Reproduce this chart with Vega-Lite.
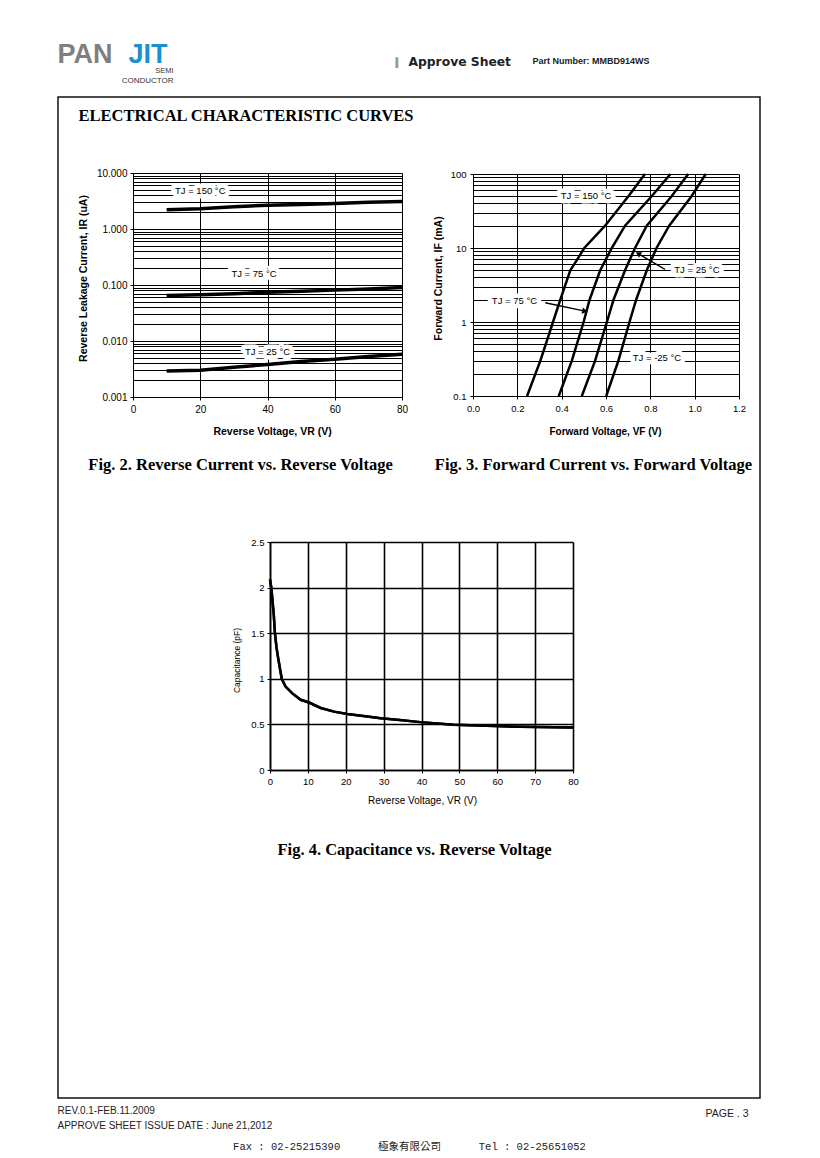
{
  "$schema": "https://vega.github.io/schema/vega-lite/v6.json",
  "width": 702,
  "height": 1001,
  "autosize": {"type": "none"},
  "padding": {"left": 58, "top": 97, "right": 60, "bottom": 60},
  "background": "white",
  "config": {
    "view": {"stroke": "#111111", "strokeWidth": 1.5, "fill": "white"},
    "axis": {
      "labelFont": "Liberation Sans", "titleFont": "Liberation Sans",
      "labelColor": "black", "titleColor": "black", "domainColor": "black",
      "tickColor": "black", "gridColor": "black", "gridOpacity": 1, "gridWidth": 1,
      "labelFlush": false, "labelOverlap": false, "titleLimit": 2000, "titlePadding": 0
    }
  },
  "datasets": {
    "fig2": [
      {"s": "150", "v": 10, "i": 2.2}, {"s": "150", "v": 20, "i": 2.3}, {"s": "150", "v": 30, "i": 2.5}, {"s": "150", "v": 40, "i": 2.65},
      {"s": "150", "v": 50, "i": 2.75}, {"s": "150", "v": 60, "i": 2.85}, {"s": "150", "v": 70, "i": 3.0}, {"s": "150", "v": 80, "i": 3.1},
      {"s": "75", "v": 10, "i": 0.065}, {"s": "75", "v": 20, "i": 0.067}, {"s": "75", "v": 30, "i": 0.07}, {"s": "75", "v": 40, "i": 0.074},
      {"s": "75", "v": 50, "i": 0.077}, {"s": "75", "v": 60, "i": 0.081}, {"s": "75", "v": 70, "i": 0.085}, {"s": "75", "v": 80, "i": 0.09},
      {"s": "25", "v": 10, "i": 0.0029}, {"s": "25", "v": 20, "i": 0.003}, {"s": "25", "v": 30, "i": 0.0034}, {"s": "25", "v": 40, "i": 0.0038},
      {"s": "25", "v": 50, "i": 0.0043}, {"s": "25", "v": 60, "i": 0.0047}, {"s": "25", "v": 70, "i": 0.0053}, {"s": "25", "v": 80, "i": 0.0058}
    ],
    "fig2lab": [
      {"label": "TJ = 150 °C", "v": 20, "i": 4.7},
      {"label": "TJ = 75 °C", "v": 36, "i": 0.16},
      {"label": "TJ = 25 °C", "v": 40, "i": 0.0063}
    ],
    "fig3": [
      {"s": "150", "vf": 0.244, "f": 0.1}, {"s": "150", "vf": 0.304, "f": 0.3}, {"s": "150", "vf": 0.361, "f": 1}, {"s": "150", "vf": 0.394, "f": 2},
      {"s": "150", "vf": 0.439, "f": 5}, {"s": "150", "vf": 0.469, "f": 6.9}, {"s": "150", "vf": 0.502, "f": 10}, {"s": "150", "vf": 0.596, "f": 20},
      {"s": "150", "vf": 0.701, "f": 50}, {"s": "150", "vf": 0.776, "f": 100},
      {"s": "75", "vf": 0.387, "f": 0.1}, {"s": "75", "vf": 0.446, "f": 0.3}, {"s": "75", "vf": 0.499, "f": 1}, {"s": "75", "vf": 0.526, "f": 2},
      {"s": "75", "vf": 0.574, "f": 5}, {"s": "75", "vf": 0.626, "f": 10}, {"s": "75", "vf": 0.686, "f": 20}, {"s": "75", "vf": 0.806, "f": 50},
      {"s": "75", "vf": 0.891, "f": 100},
      {"s": "25", "vf": 0.491, "f": 0.1}, {"s": "25", "vf": 0.551, "f": 0.3}, {"s": "25", "vf": 0.604, "f": 1}, {"s": "25", "vf": 0.634, "f": 2},
      {"s": "25", "vf": 0.686, "f": 5}, {"s": "25", "vf": 0.731, "f": 10}, {"s": "25", "vf": 0.784, "f": 20}, {"s": "25", "vf": 0.896, "f": 50},
      {"s": "25", "vf": 0.971, "f": 100},
      {"s": "-25", "vf": 0.601, "f": 0.1}, {"s": "-25", "vf": 0.656, "f": 0.3}, {"s": "-25", "vf": 0.706, "f": 1}, {"s": "-25", "vf": 0.736, "f": 2},
      {"s": "-25", "vf": 0.784, "f": 5}, {"s": "-25", "vf": 0.828, "f": 10}, {"s": "-25", "vf": 0.885, "f": 20}, {"s": "-25", "vf": 0.986, "f": 50},
      {"s": "-25", "vf": 1.05, "f": 100}
    ],
    "fig3lab": [
      {"label": "TJ = 150 °C", "vf": 0.51, "f": 50},
      {"label": "TJ = 25 °C", "vf": 1.01, "f": 5.0},
      {"label": "TJ = 75 °C", "vf": 0.187, "f": 1.92},
      {"label": "TJ = -25 °C", "vf": 0.83, "f": 0.327}
    ],
    "fig3arrows": [
      {"s": "25", "x0": 0.866, "y0": 5.15, "x1": 0.745, "y1": 8.4},
      {"s": "75", "x0": 0.326, "y0": 1.82, "x1": 0.505, "y1": 1.4}
    ],
    "fig4": [
      {"vr": 0, "c": 2.09}, {"vr": 0.35, "c": 2.0}, {"vr": 1.0, "c": 1.7}, {"vr": 1.3, "c": 1.5}, {"vr": 1.7, "c": 1.35},
      {"vr": 2.1, "c": 1.24}, {"vr": 3.1, "c": 1.0}, {"vr": 4.1, "c": 0.915}, {"vr": 5.9, "c": 0.84}, {"vr": 8.1, "c": 0.77},
      {"vr": 10.3, "c": 0.74}, {"vr": 13.4, "c": 0.68}, {"vr": 16.9, "c": 0.64}, {"vr": 20.4, "c": 0.615}, {"vr": 25.7, "c": 0.586},
      {"vr": 29.2, "c": 0.568}, {"vr": 33.6, "c": 0.55}, {"vr": 39.7, "c": 0.525}, {"vr": 48.5, "c": 0.495}, {"vr": 57.3, "c": 0.485},
      {"vr": 66.1, "c": 0.473}, {"vr": 80, "c": 0.465}
    ]
  },
  "resolve": {
    "scale": {"x": "independent", "y": "independent"},
    "axis": {"x": "independent", "y": "independent"}
  },
  "layer": [
    {
      "data": {"name": "fig2"},
      "mark": {"type": "line", "color": "black", "strokeWidth": 3.5},
      "encoding": {
        "x": {"field": "v", "type": "quantitative",
          "scale": {"domain": [0, 80], "range": [75, 344], "nice": false, "zero": false},
          "axis": {"orient": "top", "values": [0, 20, 40, 60, 80], "grid": true, "labels": false, "ticks": false, "domain": false,
            "title": "Fig. 2. Reverse Current vs. Reverse Voltage", "titleX": 182, "titleY": 367, "titleAngle": 0,
            "titleAlign": "center", "titleBaseline": "middle", "titleFont": "Liberation Serif", "titleFontSize": 16.5, "titleFontWeight": "bold"}},
        "y": {"field": "i", "type": "quantitative",
          "scale": {"type": "log", "domain": [0.001, 10], "range": [300, 76], "nice": false},
          "axis": {"orient": "left", "offset": -75,
            "values": [0.001,0.002,0.003,0.004,0.005,0.006,0.007,0.008,0.009,0.01,0.02,0.03,0.04,0.05,0.06,0.07,0.08,0.09,0.1,0.2,0.3,0.4,0.5,0.6,0.7,0.8,0.9,1,2,3,4,5,6,7,8,9,10],
            "grid": true,
            "labelExpr": "indexof([0.001,0.01,0.1,1,10], datum.value) >= 0 ? format(datum.value, '.3f') : ''",
            "tickOpacity": {"condition": {"test": "indexof([0.001,0.01,0.1,1,10], datum.value) >= 0", "value": 1}, "value": 0},
            "tickSize": 3, "labelPadding": 3, "labelFontSize": 10,
            "title": "Reverse Leakage Current, IR (uA)", "titleX": -50, "titleY": 181, "titleAngle": -90,
            "titleAlign": "center", "titleBaseline": "middle", "titleFontSize": 10.5, "titleFontWeight": "bold"}},
        "detail": {"field": "s"}
      }
    },
    {
      "data": {"name": "fig2lab"},
      "mark": {"type": "text", "font": "Liberation Sans", "fontSize": 9.5, "fill": "white", "stroke": "white", "strokeWidth": 9, "strokeJoin": "round"},
      "encoding": {
        "x": {"field": "v", "type": "quantitative",
          "scale": {"domain": [0, 80], "range": [75, 344], "nice": false, "zero": false},
          "axis": {"orient": "top", "labels": false, "ticks": false, "domain": false, "grid": false,
            "title": "PAN", "titleX": -1, "titleY": -35, "titleAngle": 0, "titleAlign": "left", "titleBaseline": "alphabetic",
            "titleFont": "Liberation Sans", "titleFontSize": 27, "titleFontWeight": "bold", "titleColor": "#7f7f7f"}},
        "y": {"field": "i", "type": "quantitative",
          "scale": {"type": "log", "domain": [0.001, 10], "range": [300, 76], "nice": false},
          "axis": null},
        "text": {"field": "label"}
      }
    },
    {
      "data": {"name": "fig2lab"},
      "mark": {"type": "text", "font": "Liberation Sans", "fontSize": 9.5, "color": "black"},
      "encoding": {
        "x": {"field": "v", "type": "quantitative",
          "scale": {"domain": [0, 80], "range": [75, 344], "nice": false, "zero": false},
          "axis": {"orient": "bottom", "offset": -701, "values": [0, 20, 40, 60, 80], "grid": false,
            "tickSize": 3, "labelPadding": 4, "labelFontSize": 10,
            "title": "Reverse Voltage, VR (V)", "titleX": 214, "titleY": 34, "titleAngle": 0,
            "titleAlign": "center", "titleBaseline": "middle", "titleFontSize": 10.5, "titleFontWeight": "bold"}},
        "y": {"field": "i", "type": "quantitative",
          "scale": {"type": "log", "domain": [0.001, 10], "range": [300, 76], "nice": false},
          "axis": {"orient": "left", "labels": false, "ticks": false, "domain": false, "grid": false,
            "title": "JIT", "titleX": 89.5, "titleY": -35, "titleAngle": 0, "titleAlign": "center", "titleBaseline": "alphabetic",
            "titleFont": "Liberation Sans", "titleFontSize": 27, "titleFontWeight": "bold", "titleColor": "#1b8fd2"}},
        "text": {"field": "label"}
      }
    },
    {
      "data": {"name": "fig3"},
      "mark": {"type": "line", "color": "black", "strokeWidth": 2.5},
      "encoding": {
        "x": {"field": "vf", "type": "quantitative",
          "scale": {"domain": [0, 1.2], "range": [415, 681], "nice": false, "zero": false},
          "axis": {"orient": "top", "values": [0, 0.2, 0.4, 0.6, 0.8, 1.0, 1.2], "grid": true, "labels": false, "ticks": false, "domain": false,
            "title": "Fig. 3. Forward Current vs. Forward Voltage", "titleX": 535, "titleY": 367, "titleAngle": 0,
            "titleAlign": "center", "titleBaseline": "middle", "titleFont": "Liberation Serif", "titleFontSize": 16.5, "titleFontWeight": "bold"}},
        "y": {"field": "f", "type": "quantitative",
          "scale": {"type": "log", "domain": [0.1, 100], "range": [299, 77], "nice": false},
          "axis": {"orient": "left", "offset": -415,
            "values": [0.1,0.2,0.3,0.4,0.5,0.6,0.7,0.8,0.9,1,2,3,4,5,6,7,8,9,10,20,30,40,50,60,70,80,90,100],
            "grid": true,
            "labelExpr": "indexof([0.1,1,10,100], datum.value) >= 0 ? format(datum.value, '~g') : ''",
            "tickOpacity": {"condition": {"test": "indexof([0.1,1,10,100], datum.value) >= 0", "value": 1}, "value": 0},
            "tickSize": 3, "labelPadding": 4, "labelFontSize": 9.5,
            "title": "Forward Current, IF (mA)", "titleX": -35, "titleY": 181, "titleAngle": -90,
            "titleAlign": "center", "titleBaseline": "middle", "titleFontSize": 10.5, "titleFontWeight": "bold"}},
        "detail": {"field": "s"}
      }
    },
    {
      "data": {"name": "fig3lab"},
      "mark": {"type": "text", "font": "Liberation Sans", "fontSize": 9.5, "fill": "white", "stroke": "white", "strokeWidth": 9, "strokeJoin": "round"},
      "encoding": {
        "x": {"field": "vf", "type": "quantitative",
          "scale": {"domain": [0, 1.2], "range": [415, 681], "nice": false, "zero": false},
          "axis": {"orient": "top", "labels": false, "ticks": false, "domain": false, "grid": false,
            "title": "CONDUCTOR", "titleX": 115, "titleY": -14.3, "titleAngle": 0, "titleAlign": "right", "titleBaseline": "alphabetic",
            "titleFont": "Liberation Sans", "titleFontSize": 8, "titleFontWeight": "normal", "titleColor": "#333333"}},
        "y": {"field": "f", "type": "quantitative",
          "scale": {"type": "log", "domain": [0.1, 100], "range": [299, 77], "nice": false},
          "axis": {"orient": "left", "labels": false, "ticks": false, "domain": false, "grid": false,
            "title": "SEMI", "titleX": 115, "titleY": -24.2, "titleAngle": 0, "titleAlign": "right", "titleBaseline": "alphabetic",
            "titleFont": "Liberation Sans", "titleFontSize": 7.5, "titleFontWeight": "normal", "titleColor": "#333333"}},
        "text": {"field": "label"}
      }
    },
    {
      "data": {"name": "fig3lab"},
      "mark": {"type": "text", "font": "Liberation Sans", "fontSize": 9.5, "color": "black"},
      "encoding": {
        "x": {"field": "vf", "type": "quantitative",
          "scale": {"domain": [0, 1.2], "range": [415, 681], "nice": false, "zero": false},
          "axis": {"orient": "bottom", "offset": -702, "values": [0, 0.2, 0.4, 0.6, 0.8, 1.0, 1.2], "format": ".1f", "grid": false,
            "tickSize": 3, "labelPadding": 4, "labelFontSize": 9.5,
            "title": "Forward Voltage, VF (V)", "titleX": 547, "titleY": 35, "titleAngle": 0,
            "titleAlign": "center", "titleBaseline": "middle", "titleFontSize": 10, "titleFontWeight": "bold"}},
        "y": {"field": "f", "type": "quantitative",
          "scale": {"type": "log", "domain": [0.1, 100], "range": [299, 77], "nice": false},
          "axis": {"orient": "left", "labels": false, "ticks": false, "domain": false, "grid": false,
            "title": "Approve Sheet", "titleX": 350, "titleY": -32, "titleAngle": 0, "titleAlign": "left", "titleBaseline": "alphabetic",
            "titleFont": "DejaVu Sans", "titleFontSize": 12.3, "titleFontWeight": "bold", "titleColor": "#222222"}},
        "text": {"field": "label"}
      }
    },
    {
      "data": {"name": "fig3arrows"},
      "mark": {"type": "rule", "color": "black", "strokeWidth": 1.3},
      "encoding": {
        "x": {"field": "x0", "type": "quantitative",
          "scale": {"domain": [0, 1.2], "range": [415, 681], "nice": false, "zero": false},
          "axis": {"orient": "top", "labels": false, "ticks": false, "domain": false, "grid": false,
            "title": ["REV.0.1-FEB.11.2009", "APPROVE SHEET ISSUE DATE : June 21,2012"], "titleX": -1, "titleY": 1016, "titleAngle": 0,
            "titleAlign": "left", "titleBaseline": "alphabetic", "titleLineHeight": 15,
            "titleFont": "Liberation Sans", "titleFontSize": 10, "titleFontWeight": "normal", "titleColor": "#222222"}},
        "x2": {"field": "x1"},
        "y": {"field": "y0", "type": "quantitative",
          "scale": {"type": "log", "domain": [0.1, 100], "range": [299, 77], "nice": false},
          "axis": {"orient": "left", "labels": false, "ticks": false, "domain": false, "grid": false,
            "title": "PAGE . 3", "titleX": 690, "titleY": 1019, "titleAngle": 0, "titleAlign": "right", "titleBaseline": "alphabetic",
            "titleFont": "Liberation Sans", "titleFontSize": 10.5, "titleFontWeight": "normal", "titleColor": "#222222"}},
        "y2": {"field": "y1"}
      }
    },
    {
      "data": {"name": "fig3arrows"},
      "transform": [{"filter": {"field": "s", "equal": "25"}}],
      "mark": {"type": "point", "shape": "triangle-up", "filled": true, "color": "black", "size": 40, "opacity": 1, "angle": 300},
      "encoding": {
        "x": {"field": "x1", "type": "quantitative",
          "scale": {"domain": [0, 1.2], "range": [415, 681], "nice": false, "zero": false},
          "axis": {"orient": "top", "labels": false, "ticks": false, "domain": false, "grid": false,
            "title": "Fax : 02-25215390\u00a0\u00a0\u00a0\u00a0\u00a0\u00a0極象有限公司\u00a0\u00a0\u00a0\u00a0\u00a0\u00a0Tel : 02-25651052", "titleX": 351, "titleY": 1052, "titleAngle": 0,
            "titleAlign": "center", "titleBaseline": "alphabetic",
            "titleFont": "Liberation Mono, Noto Sans CJK TC", "titleFontSize": 10.5, "titleFontWeight": "normal", "titleColor": "#222222"}},
        "y": {"field": "y1", "type": "quantitative",
          "scale": {"type": "log", "domain": [0.1, 100], "range": [299, 77], "nice": false},
          "axis": {"orient": "left", "labels": false, "ticks": false, "domain": false, "grid": false,
            "title": "Part Number: MMBD914WS", "titleX": 474, "titleY": -33.4, "titleAngle": 0, "titleAlign": "left", "titleBaseline": "alphabetic",
            "titleFont": "Liberation Sans", "titleFontSize": 9, "titleFontWeight": "bold", "titleColor": "#222222"}}
      }
    },
    {
      "data": {"name": "fig3arrows"},
      "transform": [{"filter": {"field": "s", "equal": "75"}}],
      "mark": {"type": "point", "shape": "triangle-up", "filled": true, "color": "black", "size": 40, "opacity": 1, "angle": 102},
      "encoding": {
        "x": {"field": "x1", "type": "quantitative",
          "scale": {"domain": [0, 1.2], "range": [415, 681], "nice": false, "zero": false},
          "axis": {"orient": "top", "labels": false, "ticks": false, "domain": false, "grid": false,
            "title": "▌", "titleX": 337, "titleY": -32, "titleAngle": 0,
            "titleAlign": "left", "titleBaseline": "alphabetic",
            "titleFont": "DejaVu Sans Mono", "titleFontSize": 9, "titleFontWeight": "normal", "titleColor": "#999999"}},
        "y": {"field": "y1", "type": "quantitative",
          "scale": {"type": "log", "domain": [0.1, 100], "range": [299, 77], "nice": false},
          "axis": null}
      }
    },
    {
      "data": {"name": "fig4"},
      "mark": {"type": "line", "color": "black", "strokeWidth": 2.5},
      "encoding": {
        "x": {"field": "vr", "type": "quantitative",
          "scale": {"domain": [0, 80], "range": [212, 515], "nice": false, "zero": false},
          "axis": {"orient": "top", "values": [0, 10, 20, 30, 40, 50, 60, 70, 80], "grid": true, "gridWidth": 1.6, "labels": false, "ticks": false, "domain": false,
            "title": "Fig. 4. Capacitance vs. Reverse Voltage", "titleX": 356, "titleY": 752, "titleAngle": 0,
            "titleAlign": "center", "titleBaseline": "middle", "titleFont": "Liberation Serif", "titleFontSize": 16.5, "titleFontWeight": "bold"}},
        "y": {"field": "c", "type": "quantitative",
          "scale": {"domain": [0, 2.5], "range": [673, 445], "nice": false, "zero": false},
          "axis": {"orient": "left", "offset": -212, "values": [0, 0.5, 1, 1.5, 2, 2.5], "grid": true, "gridWidth": 1.6, "domainWidth": 1.5,
            "labelExpr": "format(datum.value, '~g')", "tickSize": 3, "labelPadding": 3, "labelFontSize": 9.5,
            "title": "Capacitance (pF)", "titleX": -34, "titleY": 563, "titleAngle": -90,
            "titleAlign": "center", "titleBaseline": "middle", "titleFontSize": 8.5, "titleFontWeight": "normal"}}
      }
    },
    {
      "data": {"name": "fig4"},
      "mark": {"type": "line", "color": "black", "strokeWidth": 2.5},
      "encoding": {
        "x": {"field": "vr", "type": "quantitative",
          "scale": {"domain": [0, 80], "range": [212, 515], "nice": false, "zero": false},
          "axis": {"orient": "bottom", "offset": -328, "values": [0, 10, 20, 30, 40, 50, 60, 70, 80], "grid": false, "domainWidth": 1.5,
            "tickSize": 3, "labelPadding": 3, "labelFontSize": 9.5,
            "title": "Reverse Voltage, VR (V)", "titleX": 364, "titleY": 30, "titleAngle": 0,
            "titleAlign": "center", "titleBaseline": "middle", "titleFontSize": 10, "titleFontWeight": "normal"}},
        "y": {"field": "c", "type": "quantitative",
          "scale": {"domain": [0, 2.5], "range": [673, 445], "nice": false, "zero": false},
          "axis": {"orient": "left", "labels": false, "ticks": false, "domain": false, "grid": false,
            "title": "ELECTRICAL CHARACTERISTIC CURVES", "titleX": 20, "titleY": 23, "titleAngle": 0,
            "titleAlign": "left", "titleBaseline": "alphabetic",
            "titleFont": "Liberation Serif", "titleFontSize": 16.5, "titleFontWeight": "bold", "titleColor": "black"}}
      }
    }
  ]
}
